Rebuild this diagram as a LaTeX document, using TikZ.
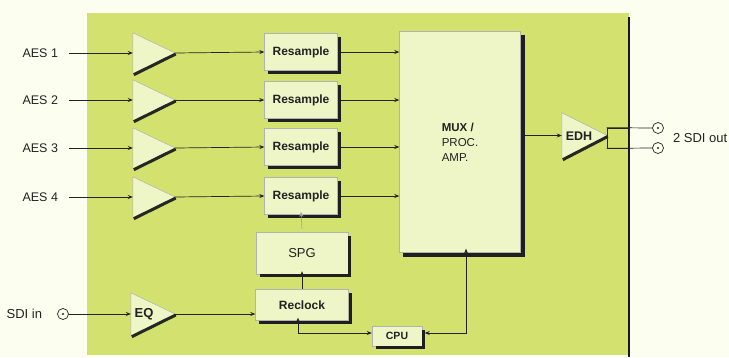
\documentclass[tikz,border=0pt]{standalone}
\usepackage{fontspec}
\setmainfont{Liberation Sans}
\usetikzlibrary{arrows.meta}
\definecolor{bg}{HTML}{FCFEEF}
\definecolor{panel}{HTML}{D3E26E}
\definecolor{boxfill}{HTML}{EEF5C6}
\definecolor{ink}{HTML}{222222}
\newcommand\ampdraw[1]{%
  \fill[boxfill] (#1.north west) -- (#1.east) -- (#1.south west) -- cycle;
  \draw[black!30, line width=0.5pt] (#1.south west) -- (#1.north west) -- (#1.east);
  \draw[black!85, line width=3pt] ([shift={(0.5,1)}]#1.east) -- ([shift={(1,1.5)}]#1.south west);}
\newcommand\boxshadow[2][3]{%
  \draw[black!88, line width=#1pt] ([shift={(#1/2,4)}]#2.north east) -- ([shift={(#1/2,#1/2)}]#2.south east) -- ([shift={(4,#1/2)}]#2.south west);}
\begin{document}
\begin{tikzpicture}[x=1pt,y=-1pt,
  every node/.style={text=ink, font=\fontsize{12.5}{14}\selectfont},
  blk/.style={draw=black!30, line width=0.4pt, fill=boxfill, inner sep=0pt},
  amp/.style={minimum width=42pt, minimum height=40pt, inner sep=0pt},
  lab/.style={inner sep=0pt, outer sep=0pt},
  port/.style={circle, draw=ink, fill=bg, line width=0.7pt, minimum size=11pt, inner sep=0pt},
  conn/.style={draw=ink, line width=0.7pt, -{Stealth[length=5pt,width=4pt]}},
  conn2/.style={draw=ink, line width=0.7pt, {Stealth[length=5pt,width=4pt]}-{Stealth[length=5pt,width=4pt]}},
  bfb/.style={font=\bfseries\fontsize{12}{14}\selectfont}
]
\useasboundingbox (0,0) rectangle (729,357);
\fill[bg] (0,0) rectangle (729,357);
% panel
\fill[panel] (87,13) rectangle (629,355);
\draw[black!90, line width=2pt] (629,17) -- (629,357);

% amplifiers
\foreach \i/\y in {1/53,2/100,3/148,4/197}{
  \node[amp] (a\i) at (154,\y) {};
  \ampdraw{a\i}
  \node[lab, anchor=east] (l\i) at (58,\y) {AES \i};
  \draw[conn, shorten <=11pt] (l\i.east) -- (a\i.west);
}
% MUX
\node[blk, minimum width=121pt, minimum height=221pt, align=left,
  font=\fontsize{11.5}{15}\selectfont] (mux) at (460,142)
  {\textbf{MUX /}\\PROC.\\AMP.};
\boxshadow[4]{mux}
% resample
\foreach \i/\y in {1/52,2/100,3/147,4/196}{
  \node[blk, bfb, minimum width=73pt, minimum height=37pt] (r\i) at (301,\y) {Resample};
  \boxshadow{r\i}
  \draw[conn] (a\i.east) -- (r\i.west);
  \draw[conn] ([xshift=3pt]r\i.east) -- (r\i.east -| mux.west);
}
% SPG / Reclock / CPU
\node[blk, minimum width=92pt, minimum height=42pt, font=\fontsize{13}{15}\selectfont] (spg) at (302,253) {SPG};
\boxshadow{spg}
\node[blk, bfb, minimum width=93pt, minimum height=31pt] (recl) at (302,305) {Reclock};
\boxshadow{recl}
\node[blk, minimum width=50pt, minimum height=20pt, font=\bfseries\fontsize{10.5}{12}\selectfont] (cpu) at (397,336) {CPU};
\boxshadow[2.5]{cpu}
\draw[conn, draw=black!35] ([yshift=3pt]spg.north) -- ([yshift=3pt]r4.south);
\draw[conn] (recl.north) -- ([yshift=3pt]spg.south);
\draw[conn2] ([yshift=3pt]cpu.west) -| ([xshift=-4pt,yshift=3pt]recl.south);
\draw[conn2] ([xshift=2.5pt,yshift=3pt]cpu.east) -| ([xshift=6pt,yshift=4pt]mux.south);

% EQ
\node[amp, minimum width=44pt, minimum height=42pt] (eq) at (153,314) {};
\ampdraw{eq}
\node[bfb, font=\bfseries\fontsize{13}{15}\selectfont] (eqt) at (144,314) {EQ};
\node[port] (cin) at (63,314) {};
\fill[ink] (cin) circle (1.2pt);
\node[lab, anchor=east, font=\fontsize{13}{15}\selectfont] (lin) at (42,314) {SDI in};
\draw[conn] (cin.east) -- (eq.west);
\draw[conn] (eq.east) -- (eq.east -| recl.west);

% EDH and outputs
\node[amp, minimum width=45pt, minimum height=45pt] (edh) at (584.5,135.5) {};
\ampdraw{edh}
\node[font=\bfseries\fontsize{12.5}{15}\selectfont] (edht) at (579,136) {EDH};
\draw[conn] ([xshift=4pt]edh.west -| mux.east) -- (edh.west);
\node[draw=ink, line width=0.7pt, minimum width=22pt, minimum height=20pt, inner sep=0pt] (split) at (618,138) {};
\node[port] (o1) at (658,128) {};
\node[port] (o2) at (658,148) {};
\fill[ink] (o1) circle (1.2pt);
\fill[ink] (o2) circle (1.2pt);
\draw[ink, line width=0.7pt] (split.north west) -- (o1.west);
\draw[ink, line width=0.7pt] (split.south west) -- (o2.west);
\node[lab, anchor=west, font=\fontsize{13}{15}\selectfont] (lout) at (673,138) {2 SDI out};
\end{tikzpicture}
\end{document}
